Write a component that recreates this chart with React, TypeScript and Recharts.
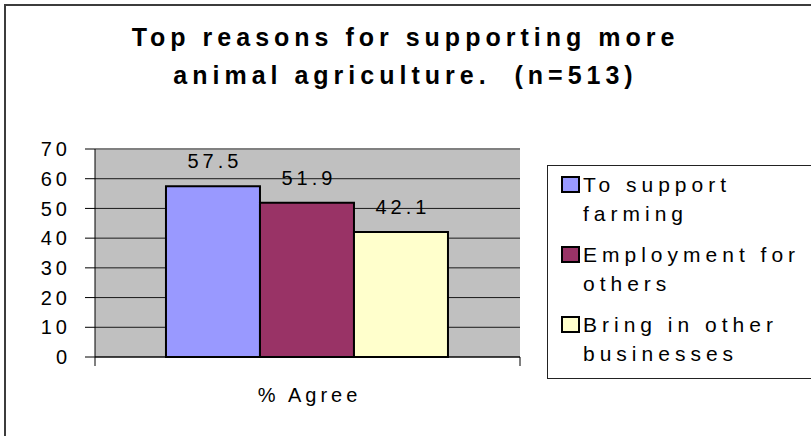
import { Bar, BarChart, CartesianGrid, LabelList, Legend, ReferenceLine, XAxis, YAxis } from "recharts";

const FONT = "'Liberation Sans', Arial, sans-serif";

// chart data
const categories = ["% Agree"];
const seriesKeys = ["support", "employment", "business"];
const seriesNames = ["To support farming", "Employment for others", "Bring in other businesses"];
const seriesValues = [57.5, 51.9, 42.1];
const seriesColors = ["#9999ff", "#993366", "#ffffcc"];
const yTicks = [0, 10, 20, 30, 40, 50, 60, 70];
const titleLines = ["Top reasons for supporting more", "animal agriculture.  (n=513)"];

const data = categories.map((name) => {
  const row: Record<string, string | number> = { name };
  seriesKeys.forEach((k, i) => {
    row[k] = seriesValues[i];
  });
  return row;
});

function ValueLabel(props: any) {
  const { x, y, width, value } = props;
  return (
    <text
      x={x + width / 2 + 2}
      y={y - 18}
      textAnchor="middle"
      fill="#000"
      fontSize={20}
      letterSpacing={4}
      fontFamily={FONT}
    >
      {value}
    </text>
  );
}

function CategoryTick(props: any) {
  const { x, y, payload } = props;
  const half = payload?.offset ?? 0;
  return (
    <g>
      <line x1={x - half} y1={y} x2={x - half} y2={y + 9} stroke="#000" />
      <line x1={x + half} y1={y} x2={x + half} y2={y + 9} stroke="#000" />
      <text x={x + 2} y={y + 45} textAnchor="middle" fill="#000" fontSize={20} letterSpacing={4} fontFamily={FONT}>
        {payload.value}
      </text>
    </g>
  );
}

function LegendBox() {
  return (
    <div
      style={{
        boxSizing: "border-box",
        width: 270,
        height: 214,
        background: "#fff",
        border: "1px solid #222",
        padding: "4px 0 0 13px",
        fontFamily: FONT,
        fontSize: 21,
        letterSpacing: 5,
        color: "#000",
      }}
    >
      {seriesNames.map((n, i) => (
        <div key={n} style={{ display: "flex", alignItems: "flex-start", height: 70 }}>
          <span
            style={{
              boxSizing: "border-box",
              width: 19,
              height: 17,
              marginTop: 6,
              marginRight: 3,
              flexShrink: 0,
              background: seriesColors[i],
              border: "2px solid #000",
            }}
          />
          <span style={{ width: 235, lineHeight: "29px" }}>{n}</span>
        </div>
      ))}
    </div>
  );
}

export default function App() {
  return (
    <div
      style={{
        position: "fixed",
        left: 0,
        top: 0,
        width: 811,
        height: 436,
        overflow: "hidden",
        background: "#fff",
      }}
    >
      <div
        style={{
          position: "absolute",
          left: 4,
          top: 4,
          width: 840,
          height: 470,
          border: "2px solid #3c3c3c",
        }}
      />
      <div
        style={{
          position: "absolute",
          left: 0,
          top: 18,
          width: 811,
          textAlign: "center",
          fontFamily: FONT,
          fontWeight: 700,
          fontSize: 25,
          letterSpacing: 5,
          lineHeight: "38px",
          color: "#000",
          whiteSpace: "pre",
        }}
      >
        {titleLines.map((t) => (
          <div key={t}>{t}</div>
        ))}
      </div>
      <div style={{ position: "absolute", left: 0, top: 0 }}>
        <BarChart
          width={811}
          height={436}
          data={data}
          margin={{ top: 149, right: 291, bottom: 0, left: 35 }}
          barGap={0}
          barCategoryGap="16.7%"
        >
          <CartesianGrid vertical={false} fill="#c0c0c0" stroke="#1a1a1a" />
          <XAxis
            dataKey="name"
            height={79}
            axisLine={{ stroke: "#000" }}
            tickLine={false}
            tickSize={0}
            tickMargin={0}
            tick={<CategoryTick />}
          />
          <YAxis
            width={60}
            domain={[0, 70]}
            ticks={yTicks}
            interval={0}
            tickSize={10}
            tickMargin={14}
            axisLine={{ stroke: "#000" }}
            tickLine={{ stroke: "#000" }}
            tick={{ fill: "#000", fontSize: 20, fontFamily: FONT, letterSpacing: 4 }}
          />
          <YAxis
            yAxisId="r"
            orientation="right"
            width={0}
            domain={[0, 70]}
            tick={false}
            tickLine={false}
            axisLine={{ stroke: "#808080", strokeWidth: 2 }}
          />
          <ReferenceLine y={70} stroke="#808080" strokeWidth={2} />
          {seriesKeys.map((k, i) => (
            <Bar
              key={k}
              dataKey={k}
              name={seriesNames[i]}
              fill={seriesColors[i]}
              stroke="#000"
              strokeWidth={2}
              isAnimationActive={false}
            >
              <LabelList dataKey={k} content={<ValueLabel />} />
            </Bar>
          ))}
          <Legend
            layout="horizontal"
            verticalAlign="middle"
            align="center"
            width={270}
            wrapperStyle={{ left: 547, top: 165, width: 270 }}
            content={<LegendBox />}
          />
        </BarChart>
      </div>
    </div>
  );
}
